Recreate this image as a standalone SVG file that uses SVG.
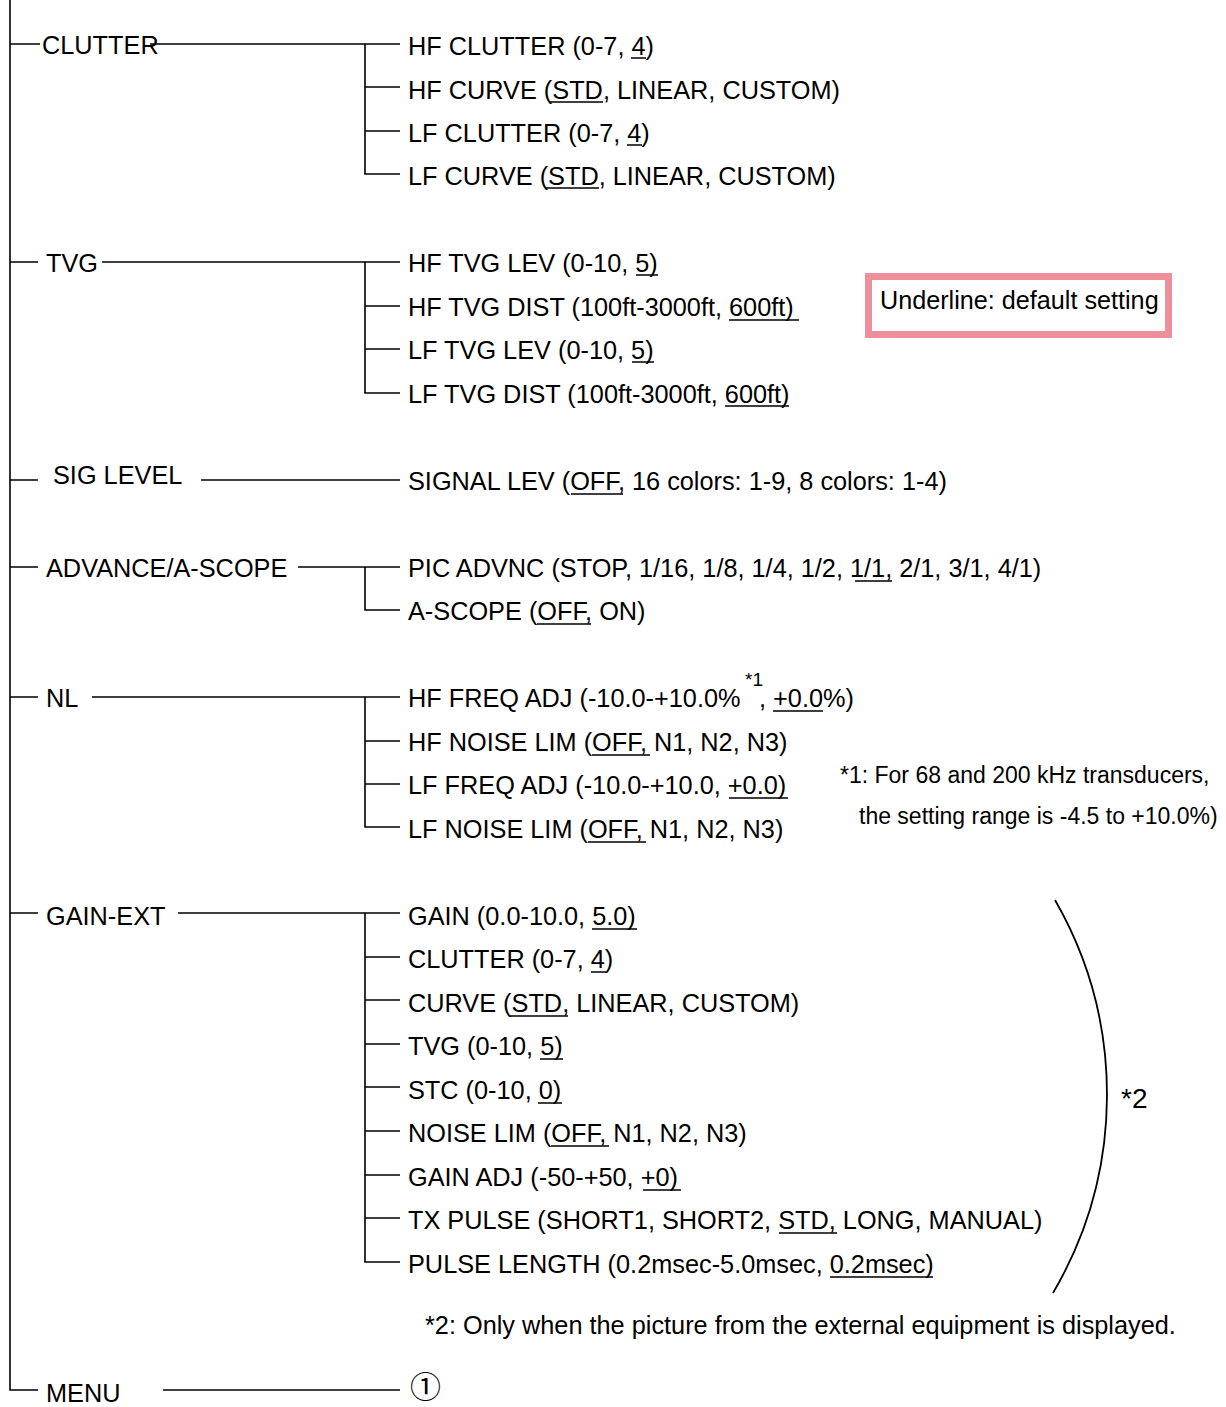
<svg xmlns="http://www.w3.org/2000/svg" width="1226" height="1407" viewBox="0 0 1226 1407">
<style>
text{font-family:"Liberation Sans",Arial,Helvetica,sans-serif;fill:#000;font-size:25.3px}
.fn{font-size:23px}
.sup{font-size:19px}
.ln{stroke:#000;stroke-width:1.6;fill:none}
.ul{stroke:#000;stroke-width:1.3;fill:none}
</style>
<rect width="1226" height="1407" fill="#fff"/>
<g id="connectors" class="ln">
<path d="M10,0 V1390 H38"/>
<path d="M10,44 H40 M150,44 H400 M365,44 V174 H400 M365,87 H400 M365,131 H400"/>
<path d="M10,262 H38 M102,262 H400 M365,262 V393 H400 M365,306 H400 M365,349 H400"/>
<path d="M10,480 H38 M201,480 H400"/>
<path d="M10,567 H38 M298,567 H400 M365,567 V610 H400"/>
<path d="M10,697 H38 M92,697 H400 M365,697 V827 H400 M365,741 H400 M365,784 H400"/>
<path d="M10,913 H38 M178,913 H400 M365,913 V1262 H400 M365,957 H400 M365,1000 H400 M365,1044 H400 M365,1087 H400 M365,1131 H400 M365,1175 H400 M365,1218 H400"/>
<path d="M163,1390 H400"/>
<path d="M1055,900 A391,391 0 0 1 1053,1293" stroke-width="1.8"/>
</g>
<g id="clutter">
<text x="42" y="54">CLUTTER</text>
<text x="408" y="55">HF CLUTTER (0-7, 4)</text>
<text x="408" y="99">HF CURVE (STD, LINEAR, CUSTOM)</text>
<text x="408" y="142">LF CLUTTER (0-7, 4)</text>
<text x="408" y="185">LF CURVE (STD, LINEAR, CUSTOM)</text>
<path class="ul" d="M631,58 H646 M550,102 H603 M627,145 H642 M546,188 H599"/>
</g>
<g id="tvg">
<text x="46" y="272">TVG</text>
<text x="408" y="272">HF TVG LEV (0-10, 5)</text>
<text x="408" y="316">HF TVG DIST (100ft-3000ft, 600ft)</text>
<text x="408" y="359">LF TVG LEV (0-10, 5)</text>
<text x="408" y="403">LF TVG DIST (100ft-3000ft, 600ft)</text>
<path class="ul" d="M636,275 H658 M729,320 H799 M632,362 H654 M725,406 H789"/>
</g>
<g id="legend">
<rect x="868.5" y="276.5" width="300" height="58" fill="#fff" stroke="#ef8f9c" stroke-width="7"/>
<text x="880" y="309" style="font-size:25.2px">Underline: default setting</text>
</g>
<g id="siglevel">
<text x="53" y="484">SIG LEVEL</text>
<text x="408" y="490">SIGNAL LEV (OFF, 16 colors: 1-9, 8 colors: 1-4)</text>
<path class="ul" d="M571,494 H623"/>
</g>
<g id="advance">
<text x="46" y="577">ADVANCE/A-SCOPE</text>
<text x="408" y="577">PIC ADVNC (STOP, 1/16, 1/8, 1/4, 1/2, 1/1, 2/1, 3/1, 4/1)</text>
<text x="408" y="620">A-SCOPE (OFF, ON)</text>
<path class="ul" d="M855,581 H892 M537,624 H591"/>
</g>
<g id="nl">
<text x="46" y="707">NL</text>
<text x="408" y="707">HF FREQ ADJ (-10.0-+10.0%</text>
<text x="745" y="686" class="sup">*1</text>
<text x="759" y="707">, +0.0%)</text>
<text x="408" y="751">HF NOISE LIM (OFF, N1, N2, N3)</text>
<text x="408" y="794">LF FREQ ADJ (-10.0-+10.0, +0.0)</text>
<text x="408" y="838">LF NOISE LIM (OFF, N1, N2, N3)</text>
<path class="ul" d="M773,711 H823 M592,755 H650 M729,798 H788 M588,842 H646"/>
<text x="840" y="783" class="fn">*1: For 68 and 200 kHz transducers,</text>
<text x="859" y="824" class="fn">the setting range is -4.5 to +10.0%)</text>
</g>
<g id="gainext">
<text x="46" y="925">GAIN-EXT</text>
<text x="408" y="925">GAIN (0.0-10.0, 5.0)</text>
<text x="408" y="968">CLUTTER (0-7, 4)</text>
<text x="408" y="1012">CURVE (STD, LINEAR, CUSTOM)</text>
<text x="408" y="1055">TVG (0-10, 5)</text>
<text x="408" y="1099">STC (0-10, 0)</text>
<text x="408" y="1142">NOISE LIM (OFF, N1, N2, N3)</text>
<text x="408" y="1186">GAIN ADJ (-50-+50, +0)</text>
<text x="408" y="1229">TX PULSE (SHORT1, SHORT2, STD, LONG, MANUAL)</text>
<text x="408" y="1273">PULSE LENGTH (0.2msec-5.0msec, 0.2msec)</text>
<path class="ul" d="M592,929 H637 M591,972 H606 M510,1016 H568 M540,1059 H563 M538,1103 H562 M551,1146 H609 M643,1190 H681 M779,1233 H837 M830,1277 H933"/>
<text x="1121" y="1108" style="font-size:28px">*2</text>
<text x="425" y="1334">*2: Only when the picture from the external equipment is displayed.</text>
</g>
<g id="menu">
<text x="46" y="1402">MENU</text>
<text x="410" y="1398" style="font-family:'Noto Sans CJK JP','DejaVu Sans',sans-serif;font-size:31px">①</text>
</g>
</svg>
